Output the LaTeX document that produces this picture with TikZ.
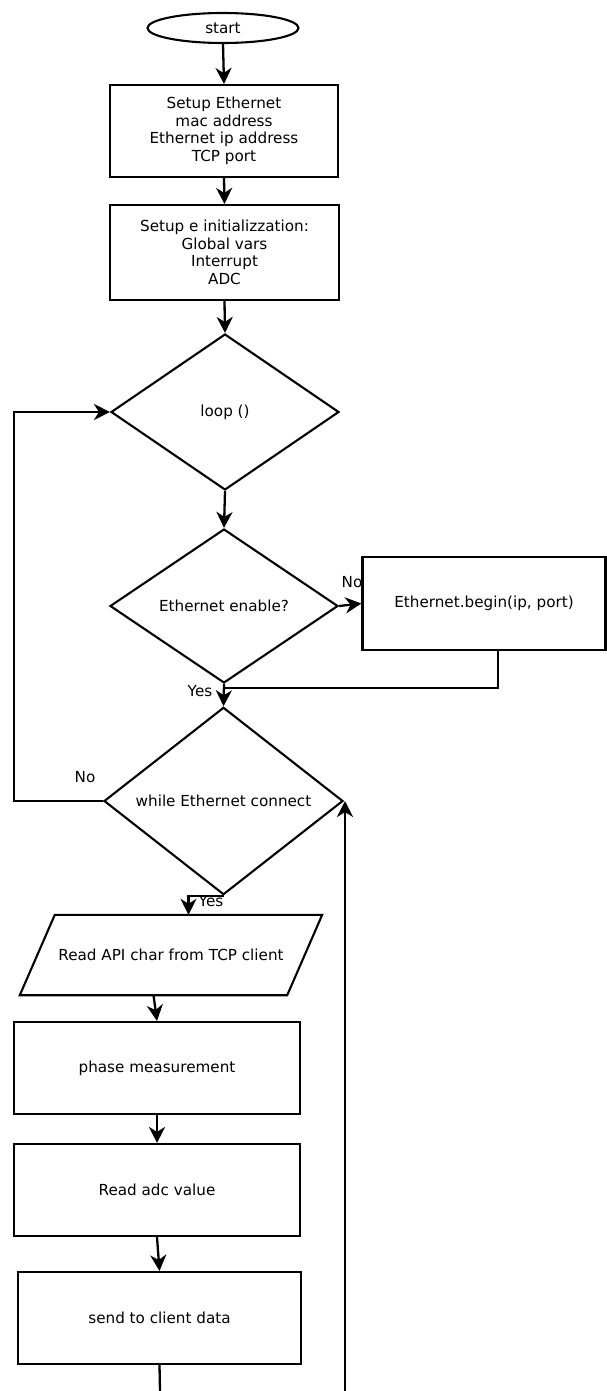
\documentclass[tikz,border=0pt]{standalone}
\usepackage{fontspec}
\setmainfont{DejaVu Sans}
\usetikzlibrary{shapes.geometric,arrows.meta,calc}
\begin{document}
\begin{tikzpicture}[x=1pt,y=-1pt,
  every node/.style={font=\fontsize{15.2}{17.5}\selectfont},
  box/.style={draw,line width=2.1pt,rectangle,align=center,inner sep=0pt},
  dia/.style={draw,line width=2.1pt,diamond,inner sep=0pt,align=center},
  term/.style={draw,line width=2.1pt,ellipse,inner sep=0pt},
  iotext/.style={rectangle,inner sep=0pt},
  conn/.style={line width=2.3pt,-{Stealth[length=16pt,width=16pt,inset=5pt]}},
  plain/.style={line width=2.3pt},
  shapeline/.style={line width=2.1pt,line join=miter},
  lbl/.style={inner sep=0pt}]
\useasboundingbox (0,0) rectangle (607,1391);

\node[term,minimum width=151pt,minimum height=30pt] (start) at (223,28) {start};
\node[box,minimum width=228pt,minimum height=92pt] (s1) at (224,131) {Setup Ethernet\\mac address\\Ethernet ip address\\TCP port};
\node[box,minimum width=229pt,minimum height=95pt] (s2) at (224.5,252.5) {Setup e initializzation:\\Global vars\\Interrupt\\ADC};
\node[dia,minimum width=228pt,minimum height=156pt] (loop) at (225,412) {loop ()};
\node[dia,minimum width=228pt,minimum height=154pt] (en) at (224,606) {Ethernet enable?};
\node[box,minimum width=243pt,minimum height=93pt] (begin) at (484,603.5) {Ethernet.begin(ip, port)};
\node[dia,minimum width=239pt,minimum height=165pt] (while) at (223.5,801) {while Ethernet connect};
\node[iotext,minimum width=267pt,minimum height=80pt] (para) at (171,955) {Read API char from TCP client};
\draw[shapeline] ($(para.north west)+(17.5,0)$) -- ($(para.north east)+(17.5,0)$)
  -- ($(para.south east)+(-17.5,0)$) -- ($(para.south west)+(-17.5,0)$) -- cycle;
\node[box,minimum width=286pt,minimum height=92pt] (phase) at (157,1068) {phase measurement};
\node[box,minimum width=286pt,minimum height=92pt] (adc) at (157,1190) {Read adc value};
\node[box,minimum width=283pt,minimum height=92pt] (send) at (159.5,1318) {send to client data};

\node[lbl] (no1) at (352,582) {No};
\node[lbl] (yes1) at (200,691) {Yes};
\node[lbl] (no2) at (85,777) {No};
\node[lbl] (yes2) at (211,901) {Yes};

\coordinate (bj) at (498,688);
\coordinate (lft) at (14,801);
\coordinate (bot1) at (160,1391);
\coordinate (bot2) at (345,1391);

\draw[conn] (start.south) -- (s1.north);
\draw[conn] (s1.south) -- (s2.north);
\draw[conn] (s2.south) -- (loop.north);
\draw[conn] (loop.south) -- (en.north);
\draw[conn] (en.east) -- (begin.west);
\draw[plain] (begin.south -| bj) -- (bj) -- (bj -| en.south);
\draw[conn] (en.south) -- (while.north);
\draw[conn] (while.west) -- (lft) |- (loop.west);
\draw[conn] (while.south) -| ([xshift=17.5pt]para.north);
\draw[conn] ([xshift=-17.5pt]para.south) -- (phase.north);
\draw[conn] (phase.south) -- (adc.north);
\draw[conn] (adc.south) -- (send.north);
\draw[plain] (send.south) -- (bot1);
\draw[conn] (bot2) -- (bot2 |- while.east);
\end{tikzpicture}
\end{document}
